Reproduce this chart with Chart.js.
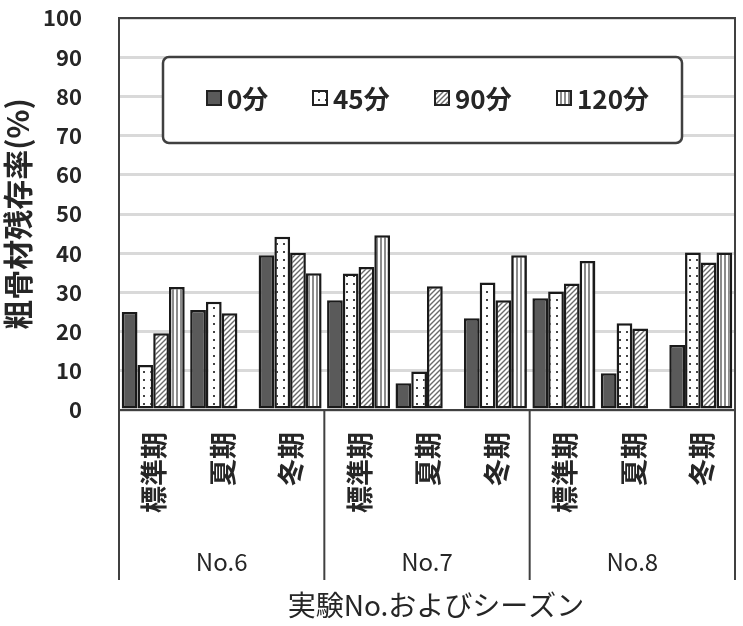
<!DOCTYPE html>
<html>
<head>
<meta charset="utf-8">
<script src="https://cdn.jsdelivr.net/npm/chart.js@4.4.1/dist/chart.umd.min.js"></script>
<style>
  html, body { margin: 0; padding: 0; background: #fff; }
  canvas { display: block; }
</style>
</head>
<body>
<canvas id="chart" width="743" height="626"></canvas>
<script>
// data
const seasons = ['標準期', '夏期', '冬期', '標準期', '夏期', '冬期', '標準期', '夏期', '冬期'];
const groups = ['No.6', 'No.7', 'No.8'];
const seriesNames = ['0分', '45分', '90分', '120分'];
const min0 = [25, 25.5, 39.5, 28, 6.8, 23.4, 28.5, 9.4, 16.6];
const min45 = [11.5, 27.6, 44.2, 34.8, 9.8, 32.5, 30.2, 22.1, 40.2];
const min90 = [19.6, 24.7, 40.1, 36.5, 31.6, 28, 32.3, 20.8, 37.6];
const min120 = [31.4, null, 34.9, 44.6, null, 39.5, 38, null, 40.2];
const yTitle = '粗骨材残存率(%)';
const xTitle = '実験No.およびシーズン';

const FONT = "'Noto Sans CJK JP', 'Noto Sans', sans-serif";
const INK = '#262626';

function makePattern(w, h, draw) {
  const c = document.createElement('canvas');
  c.width = w; c.height = h;
  const g = c.getContext('2d');
  g.fillStyle = '#fff';
  g.fillRect(0, 0, w, h);
  draw(g);
  return c.getContext('2d').createPattern(c, 'repeat');
}

const dots = makePattern(7, 8, g => {
  g.fillStyle = '#444';
  g.fillRect(3, 3, 2, 2);
});
const hatch = makePattern(5, 5, g => {
  g.strokeStyle = '#6a6a6a';
  g.lineWidth = 1.4;
  g.beginPath();
  g.moveTo(-1, 6); g.lineTo(6, -1);
  g.moveTo(-1, 1); g.lineTo(1, -1);
  g.moveTo(4, 6); g.lineTo(6, 4);
  g.stroke();
});
const stripes = makePattern(4, 4, g => {
  g.fillStyle = '#8c8c8c';
  g.fillRect(0, 0, 2, 4);
});

const fills = ['#5a5a5a', dots, hatch, stripes];
const seriesData = [min0, min45, min90, min120];

const extras = {
  id: 'extras',
  afterDraw(chart) {
    const ctx = chart.ctx;
    const area = chart.chartArea;
    const xs = chart.scales.x;
    ctx.save();

    // plot frame
    ctx.strokeStyle = '#404040';
    ctx.lineWidth = 2;
    ctx.strokeRect(area.left, area.top, area.right - area.left, area.bottom - area.top);

    // season labels, rotated -90deg, hanging from the top
    ctx.fillStyle = INK;
    ctx.font = 'bold 27px ' + FONT;
    ctx.textAlign = 'right';
    ctx.textBaseline = 'middle';
    seasons.forEach((s, i) => {
      ctx.save();
      ctx.translate(xs.getPixelForValue(i) + 1, area.bottom + 22);
      ctx.rotate(-Math.PI / 2);
      ctx.fillText(s, 0, 0);
      ctx.restore();
    });

    // group separators and group labels
    const per = seasons.length / groups.length;
    ctx.strokeStyle = '#404040';
    ctx.lineWidth = 2;
    for (let k = 0; k <= groups.length; k++) {
      let x;
      if (k === 0) x = area.left;
      else if (k === groups.length) x = area.right;
      else x = (xs.getPixelForValue(k * per - 1) + xs.getPixelForValue(k * per)) / 2;
      ctx.beginPath();
      ctx.moveTo(x, area.bottom);
      ctx.lineTo(x, 580);
      ctx.stroke();
    }
    ctx.font = '24px ' + FONT;
    ctx.textAlign = 'center';
    groups.forEach((g, k) => {
      ctx.fillText(g, xs.getPixelForValue(k * per + (per - 1) / 2), 562);
    });

    // x axis title
    ctx.font = '28px ' + FONT;
    ctx.fillText(xTitle, 436, 605);

    // legend box inside the plot
    ctx.fillStyle = '#fff';
    ctx.strokeStyle = '#404040';
    ctx.lineWidth = 2.5;
    ctx.beginPath();
    ctx.roundRect(163, 57, 519, 86, 6);
    ctx.fill();
    ctx.stroke();
    const lx = [207, 313, 435, 557];
    ctx.font = 'bold 26px ' + FONT;
    ctx.textAlign = 'left';
    seriesNames.forEach((name, i) => {
      ctx.fillStyle = fills[i];
      ctx.fillRect(lx[i], 91, 14, 14);
      ctx.strokeStyle = '#222';
      ctx.lineWidth = 2;
      ctx.strokeRect(lx[i], 91, 14, 14);
      ctx.fillStyle = INK;
      ctx.fillText(name, lx[i] + 20, 99);
    });
    ctx.restore();
  }
};

new Chart(document.getElementById('chart'), {
  type: 'bar',
  data: {
    labels: seasons,
    datasets: seriesNames.map((name, i) => ({
      label: name,
      data: seriesData[i],
      backgroundColor: fills[i],
      borderColor: '#1a1a1a',
      borderWidth: 2.5,
      borderSkipped: false,
      categoryPercentage: 0.92,
      barPercentage: 1.0,
    })),
  },
  options: {
    responsive: false,
    animation: false,
    layout: { padding: { top: 18, right: 8, left: 0, bottom: 0 } },
    plugins: { legend: { display: false }, tooltip: { enabled: false } },
    scales: {
      x: {
        grid: { display: false },
        border: { display: true, color: '#262626', width: 2 },
        ticks: { display: false },
        afterFit: s => { s.height = 216; },
      },
      y: {
        min: 0,
        max: 100,
        ticks: {
          stepSize: 10,
          padding: 0,
          color: INK,
          font: { family: FONT, size: 22, weight: 'bold' },
        },
        grid: { color: '#d9d9d9', lineWidth: 3, drawTicks: true, tickLength: 37, tickColor: 'rgba(0,0,0,0)' },
        border: { display: true, color: '#404040', width: 2 },
        title: {
          display: true,
          text: yTitle,
          color: INK,
          padding: { top: 0, bottom: 0 },
          font: { family: FONT, size: 30, weight: 'bold' },
        },
        afterFit: s => { s.width = 119; },
      },
    },
  },
  plugins: [extras],
});
</script>
</body>
</html>
